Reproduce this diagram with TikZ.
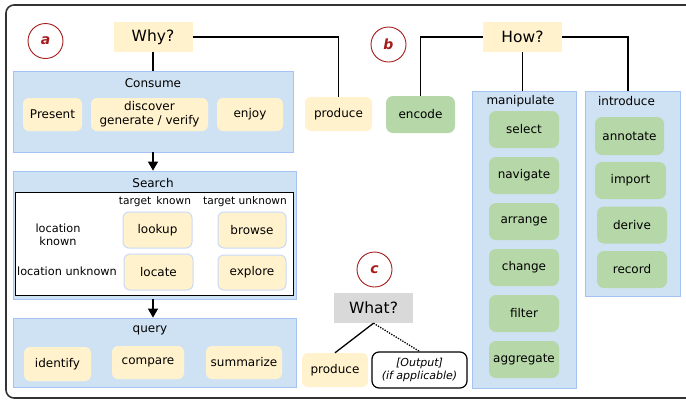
\documentclass[tikz,border=0pt]{standalone}
\usepackage{fontspec}
\setmainfont{DejaVu Sans}
\usepackage{xcolor}
\usetikzlibrary{arrows.meta}
\definecolor{ylw}{HTML}{FFF2CC}
\definecolor{grn}{HTML}{B6D7A8}
\definecolor{gry}{HTML}{D9D9D9}
\definecolor{grpfill}{HTML}{CFE2F3}
\definecolor{grpline}{HTML}{A4C2F4}
\definecolor{sline}{HTML}{C9DAF8}
\definecolor{mark}{HTML}{A51C1C}
\definecolor{frame}{HTML}{333333}

\begin{document}
\begin{tikzpicture}[x=1pt,y=-1pt,
  sz/.style 2 args={minimum width=#1, minimum height=#2},
  txt/.style={font=\fontsize{12}{14}\selectfont, align=center, inner sep=0pt},
  small/.style={font=\fontsize{10.6}{12}\selectfont, align=center, inner sep=0pt},
  grp/.style={draw=grpline, fill=grpfill, line width=0.8pt, inner sep=0pt},
  ybox/.style={txt, fill=ylw, rounded corners=6pt},
  sbox/.style={ybox, draw=sline, line width=1pt},
  gbox/.style={txt, fill=grn, rounded corners=7pt, sz={70}{37}},
  ask/.style={font=\fontsize{15.5}{17}\selectfont, inner sep=0pt, sz={79}{30}},
  tag/.style={circle, draw=mark, line width=0.9pt, text=mark, minimum size=35pt, inner sep=0pt,
    font=\fontsize{14}{16}\selectfont\bfseries\itshape},
  link/.style={line width=1.3pt},
  go/.style={line width=1.3pt, -{Triangle[length=9pt, width=10pt]}}]
\useasboundingbox (0,0) rectangle (686,400);
\clip (0,0) rectangle (686,400);
\draw[rounded corners=8pt, line width=1.6pt, draw=frame] (6,5) rectangle (720,398);

% a: why
\node[tag] (ta) at (45.5,41) {a};
\node[ask, fill=ylw] (why) at (153,37) {Why?};

\node[grp, sz={280}{81}] (consume) at (153,111.5) {};
\node[txt] at (153,83) {Consume};
\node[ybox, sz={59}{33}] (present) at (52.5,114.5) {Present};
\node[ybox, sz={117}{33}] (discover) at (149.5,114.5) {discover\\generate / verify};
\node[ybox, sz={66}{33}] (enjoy) at (250,114.5) {enjoy};

\node[grp, sz={283}{128}] (search) at (154.5,235) {};
\node[txt] at (153,183) {Search};
\node[draw=black, line width=1pt, fill=white, inner sep=0pt, sz={278}{103}] (grid) at (154,243.5) {};
\node[small] at (155,202) {target~\,known};
\node[small] at (245,202) {target unknown};
\node[txt, font=\fontsize{11.3}{13}\selectfont] at (58,235) {location\\known};
\node[txt, font=\fontsize{11.3}{13}\selectfont] at (67,271) {location unknown};
\node[sbox, sz={69}{36}] (lookup) at (157.5,230) {lookup};
\node[sbox, sz={68}{36}] (browse) at (252,230) {browse};
\node[sbox, sz={69}{36}] (locate) at (158.5,272) {locate};
\node[sbox, sz={68}{35}] (explore) at (252,272.5) {explore};

\node[grp, sz={283}{69}] (query) at (154.5,352.5) {};
\node[txt] at (150,330) {query};
\node[ybox, sz={67}{34}] (identify) at (57.5,364) {identify};
\node[ybox, sz={72}{33}] (compare) at (148,362.5) {compare};
\node[ybox, sz={76}{33}] (summarize) at (244,362.5) {summarize};

\node[ybox, sz={67}{34}] (produce) at (338.5,114) {produce};

\draw[link] (why) -- (why |- consume.north);
\draw[link] (why) -| (produce);
\draw[go] (consume.south) -- (consume.south |- search.north);
\draw[go] (consume.south |- search.south) -- (consume.south |- query.north);

% b: how
\node[tag] (tb) at (388.5,44.5) {b};
\node[ask, fill=ylw] (how) at (522.5,37) {How?};
\node[gbox, sz={69}{37}] (encode) at (420.5,114.5) {encode};

\node[grp, sz={104}{297}] (manip) at (524,239.5) {};
\node[txt] at (520.5,101) {manipulate};
\foreach \name [count=\i from 0] in {select,navigate,arrange,change,filter,aggregate}
  \node[gbox] (\name) at (524,129.5+46*\i) {\name};

\node[grp, sz={95}{205}] (intro) at (632.5,193.5) {};
\node[txt] at (626.5,101) {introduce};
\node[gbox, sz={69}{38}] (annotate) at (629.5,136) {annotate};
\node[gbox, sz={71}{37}] (import) at (630.5,180.5) {import};
\node[gbox] (derive) at (632,225) {derive};
\node[gbox] (record) at (632,269.5) {record};

\draw[link] (how.west) -| (encode);
\draw[link] (how.south) -- (how.south |- manip.north);
\draw[link] (how.east) -| ([xshift=-4.5pt]intro.north);

% c: what
\node[tag] (tc) at (374.5,269.5) {c};
\node[ask, fill=gry] (what) at (373.5,308) {What?};
\node[ybox, sz={66}{34}] (produce2) at (335,370) {produce};
\node[draw=black, fill=white, line width=1.2pt, rounded corners=7pt, inner sep=0pt, sz={95}{36},
  font=\fontsize{11}{13}\selectfont\itshape, align=center] (output) at (419.5,370) {[Output]\\(if applicable)};

\draw[link] (what.south) -- (produce2.north);
\draw[line width=1.3pt, dash pattern=on 1.3pt off 1.3pt] (what.south) -- (output.north);
\end{tikzpicture}
\end{document}
